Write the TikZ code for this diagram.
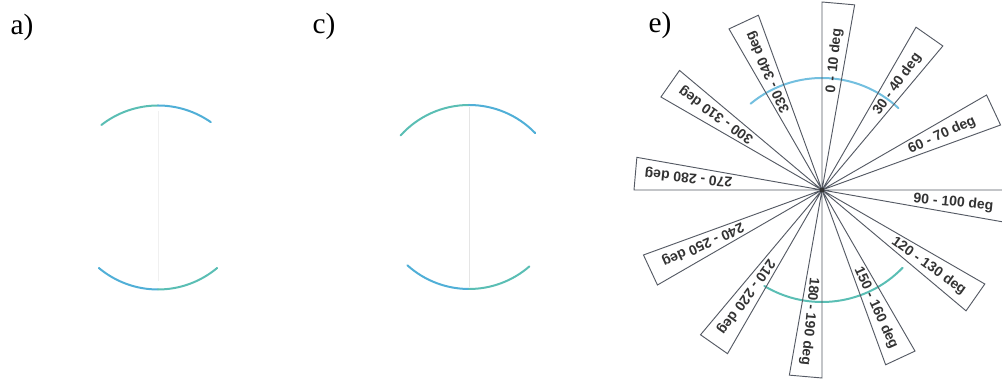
\documentclass[tikz,border=0pt]{standalone}
\usepackage{fontspec}
\setmainfont{Liberation Serif}
\newfontfamily\wedgefont{Liberation Sans}
\definecolor{arcTeal}{RGB}{90,190,180}
\definecolor{arcBlue}{RGB}{80,175,215}
\definecolor{wedgeGray}{RGB}{85,90,100}
\usepackage{tikz}
\usetikzlibrary{calc}

\begin{document}
\begin{tikzpicture}[x=0.75pt,y=0.75pt,
  wedge/.style={draw=wedgeGray, line width=0.7pt},
  deglabel/.style={font={\wedgefont\bfseries\fontsize{10.5}{12}\selectfont}, text=black!80, inner sep=0pt},
  panel/.style={font={\fontsize{22}{26}\selectfont}, inner sep=0pt},
  lens/.style={line width=1.5pt, line cap=round}]
  \useasboundingbox (0,0) rectangle (1002,381);
  % panel labels
  \node[panel] (labA) at (22,354) {a)};
  \node[panel] (labC) at (324,355) {c)};
  \node[panel] (labE) at (660,356) {e)};
  % panel a
  \coordinate (ca) at (158,183.5);
  \draw[black!6, line width=0.5pt] (158,270) -- (158,100);
  \draw[lens, arcTeal] ($(ca)+(128:92)$) arc[start angle=128, end angle=90, radius=92];
  \draw[lens, arcBlue] ($(ca)+(90:92)$) arc[start angle=90, end angle=55, radius=92];
  \draw[lens, arcBlue] ($(ca)+(-130:92)$) arc[start angle=-130, end angle=-90, radius=92];
  \draw[lens, arcTeal] ($(ca)+(-90:92)$) arc[start angle=-90, end angle=-50, radius=92];
  % panel c
  \coordinate (cc) at (469,184);
  \draw[black!10, line width=0.5pt] (469,274) -- (469,94);
  \draw[lens, arcTeal] ($(cc)+(138:92)$) arc[start angle=138, end angle=90, radius=92];
  \draw[lens, arcBlue] ($(cc)+(90:92)$) arc[start angle=90, end angle=44, radius=92];
  \draw[lens, arcBlue] ($(cc)+(-132:92)$) arc[start angle=-132, end angle=-90, radius=92];
  \draw[lens, arcTeal] ($(cc)+(-90:92)$) arc[start angle=-90, end angle=-49, radius=92];
  % panel e
  \coordinate (hub) at (822,191);
  \draw[lens, arcBlue!80] ($(hub)+(129.6:112)$) arc[start angle=129.6, end angle=47, radius=112];
  \draw[lens, arcTeal] ($(hub)+(-121:112)$) arc[start angle=-121, end angle=-44, radius=112];
  \draw[wedge] (hub) -- ($(hub)+(90:188)$) -- ($(hub)+(80:188)$) -- cycle;
  \node[deglabel, rotate=84.5] (d0) at ($(hub)+(84.5:130)$) {0 - 10 deg};
  \draw[wedge] (hub) -- ($(hub)+(60:188)$) -- ($(hub)+(50:188)$) -- cycle;
  \node[deglabel, rotate=54.5] (d30) at ($(hub)+(54.5:130)$) {30 - 40 deg};
  \draw[wedge] (hub) -- ($(hub)+(30:190)$) -- ($(hub)+(20:190)$) -- cycle;
  \node[deglabel, rotate=24.5] (d60) at ($(hub)+(24.5:132)$) {60 - 70 deg};
  \draw[wedge] (hub) -- ($(hub)+(0:186)$) -- ($(hub)+(-10:186)$) -- cycle;
  \node[deglabel, rotate=-5.5] (d90) at ($(hub)+(-5.5:132)$) {90 - 100 deg};
  \draw[wedge] (hub) -- ($(hub)+(-30:188)$) -- ($(hub)+(-40:188)$) -- cycle;
  \node[deglabel, rotate=-35.5] (d120) at ($(hub)+(-35.5:131)$) {120 - 130 deg};
  \draw[wedge] (hub) -- ($(hub)+(-60:186)$) -- ($(hub)+(-70:186)$) -- cycle;
  \node[deglabel, rotate=-65.5] (d150) at ($(hub)+(-65.5:130)$) {150 - 160 deg};
  \draw[wedge] (hub) -- ($(hub)+(-90:188)$) -- ($(hub)+(-100:188)$) -- cycle;
  \node[deglabel, rotate=-95.5] (d180) at ($(hub)+(-95.5:132)$) {180 - 190 deg};
  \draw[wedge] (hub) -- ($(hub)+(-120:189)$) -- ($(hub)+(-130:189)$) -- cycle;
  \node[deglabel, rotate=-125.5] (d210) at ($(hub)+(-125.5:131)$) {210 - 220 deg};
  \draw[wedge] (hub) -- ($(hub)+(-150:190)$) -- ($(hub)+(-160:190)$) -- cycle;
  \node[deglabel, rotate=-155.5] (d240) at ($(hub)+(-155.5:131)$) {240 - 250 deg};
  \draw[wedge] (hub) -- ($(hub)+(-180:188)$) -- ($(hub)+(-190:188)$) -- cycle;
  \node[deglabel, rotate=-185.5] (d270) at ($(hub)+(-185.5:134)$) {270 - 280 deg};
  \draw[wedge] (hub) -- ($(hub)+(-210:186)$) -- ($(hub)+(-220:186)$) -- cycle;
  \node[deglabel, rotate=-215.5] (d300) at ($(hub)+(-215.5:130)$) {300 - 310 deg};
  \draw[wedge] (hub) -- ($(hub)+(-240:186)$) -- ($(hub)+(-250:186)$) -- cycle;
  \node[deglabel, rotate=-245.5] (d330) at ($(hub)+(-245.5:130)$) {330 - 340 deg};
  \fill[black!80] (hub) circle[radius=2.5];
\end{tikzpicture}
\end{document}
